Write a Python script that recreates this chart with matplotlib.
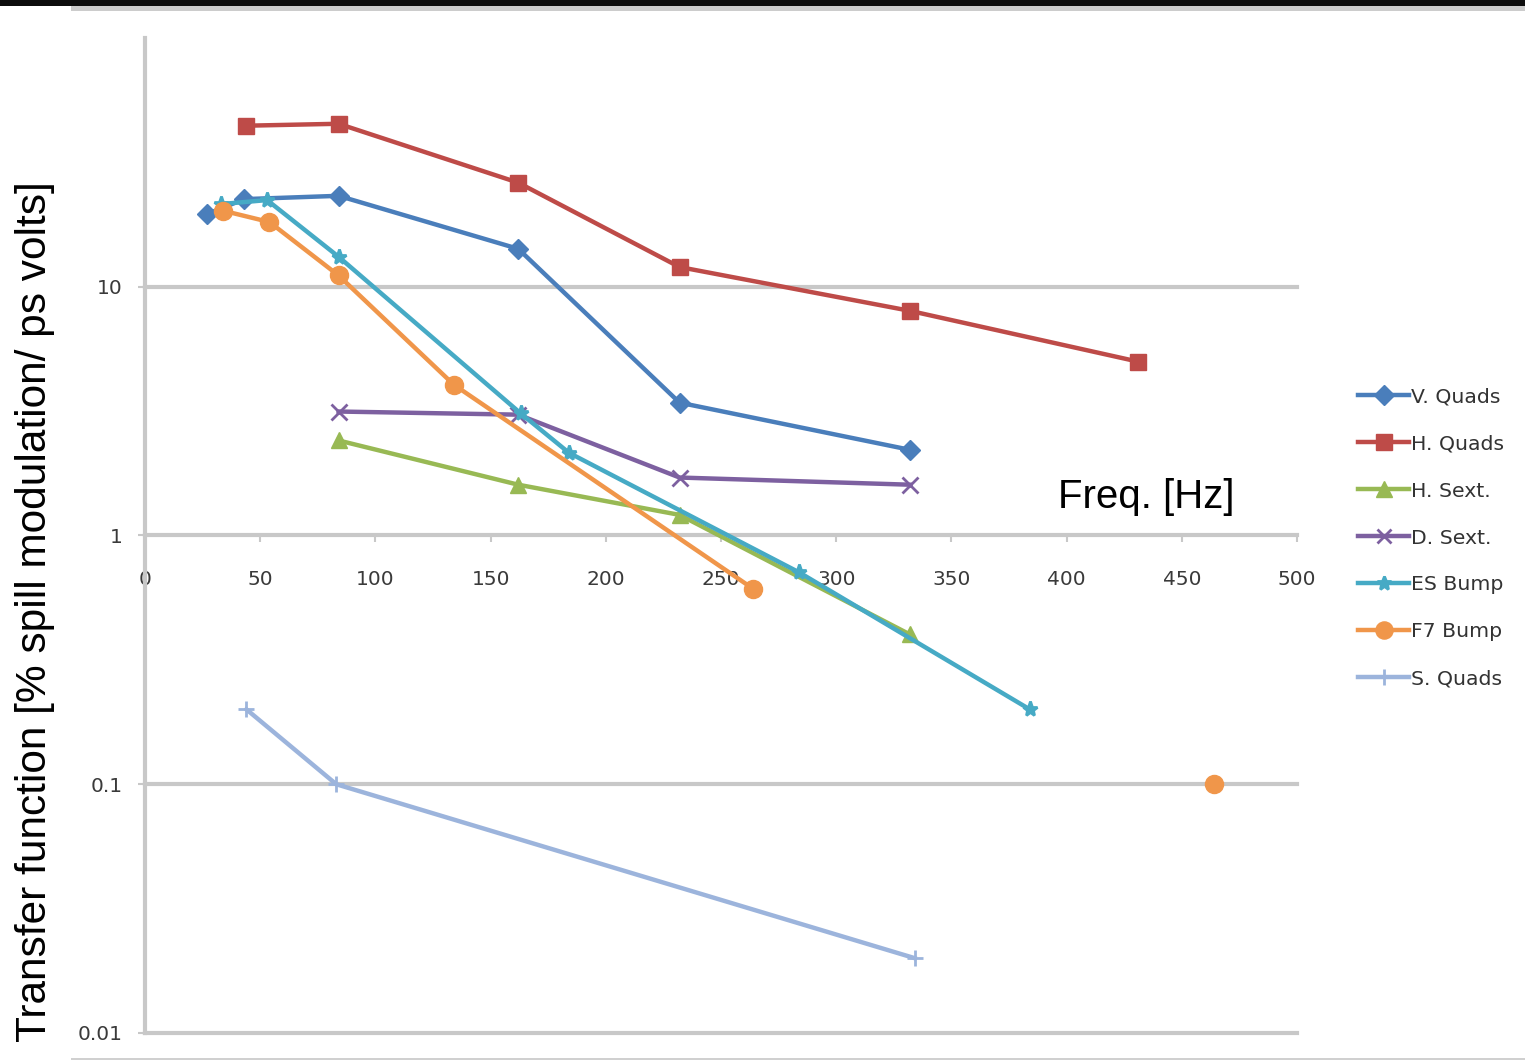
"""Transfer function vs frequency for several magnet families (log scale)."""

import matplotlib

matplotlib.use("Agg")
import matplotlib.pyplot as plt
import numpy as np
from matplotlib.patches import Rectangle
from matplotlib.ticker import NullLocator

# --- data -------------------------------------------------------------------
v_quads_x = [27, 43, 84, 162, 232, 332]
v_quads_y = [19.6, 22.5, 23.2, 14.2, 3.42, 2.21]

h_quads_x = [44, 84, 162, 232, 332, 431]
h_quads_y = [44.4, 45.2, 26.2, 12.0, 8.0, 5.0]

h_sext_x = [84, 162, 232, 332]
h_sext_y = [2.41, 1.60, 1.21, 0.40]

d_sext_x = [84, 162, 232, 332]
d_sext_y = [3.15, 3.06, 1.71, 1.60]

es_bump_x = [33, 53, 84, 163, 184, 284, 384]
es_bump_y = [21.5, 22.3, 13.2, 3.1, 2.15, 0.71, 0.20]

# gap before the last point (not connected in the original)
f7_bump_x = [34, 54, 84, 134, 264, np.nan, 464]
f7_bump_y = [20.2, 18.2, 11.1, 4.04, 0.61, np.nan, 0.10]

s_quads_x = [44, 83, 334]
s_quads_y = [0.20, 0.10, 0.020]

x_ticks = [0, 50, 100, 150, 200, 250, 300, 350, 400, 450, 500]
y_ticks = [0.01, 0.1, 1, 10]
y_tick_labels = ["0.01", "0.1", "1", "10"]

series = [
    ("V. Quads", v_quads_x, v_quads_y, "#4a7ebb", "D", 10.5),
    ("H. Quads", h_quads_x, h_quads_y, "#be4b48", "s", 11.5),
    ("H. Sext.", h_sext_x, h_sext_y, "#98b954", "^", 11.5),
    ("D. Sext.", d_sext_x, d_sext_y, "#7d60a0", "x", 11),
    ("ES Bump", es_bump_x, es_bump_y, "#46aac5", "*", 11),
    ("F7 Bump", f7_bump_x, f7_bump_y, "#f0964a", "o", 13),
    ("S. Quads", s_quads_x, s_quads_y, "#9cb4dc", "+", 12),
]

GRID = "#c8c8c8"
TICK_TEXT = "#3a3a3a"

fig = plt.figure(figsize=(15.25, 10.61), dpi=100, facecolor="white")
ax = fig.add_axes([0.0951, 0.0264, 0.7554, 0.9378])

for label, xs, ys, color, marker, ms in series:
    mew = 2.0 if marker in ("x", "+", "*") else 1.0
    ax.plot(xs, ys, color=color, lw=3.2, marker=marker, markersize=ms,
            markeredgewidth=mew, markeredgecolor=color, markerfacecolor=color,
            label=label, zorder=3)

ax.set_yscale("log")
ax.set_xlim(0, 500)
ax.set_ylim(0.01, 100)
ax.set_yticks(y_ticks)
ax.set_yticklabels(y_tick_labels)
ax.yaxis.set_minor_locator(NullLocator())
ax.set_xticks(x_ticks)
ax.set_xticklabels([str(t) for t in x_ticks])

for yv in [0.01, 0.1, 10]:
    ax.axhline(yv, color=GRID, lw=3, zorder=1, clip_on=False)

for side in ("top", "right"):
    ax.spines[side].set_visible(False)
ax.spines["left"].set_color(GRID)
ax.spines["left"].set_linewidth(3)
ax.spines["bottom"].set_position(("data", 1))
ax.spines["bottom"].set_color(GRID)
ax.spines["bottom"].set_linewidth(3)
ax.spines["bottom"].set_zorder(1)

ax.tick_params(axis="x", direction="out", length=5, width=1.5, color=GRID,
               pad=20, labelsize=14.5, labelcolor=TICK_TEXT)
ax.tick_params(axis="y", direction="out", length=5, width=1.5, color=GRID,
               pad=11, labelsize=14.5, labelcolor=TICK_TEXT)

ax.text(1146 / 1525, 1 - 497 / 1061, "Freq. [Hz]", transform=fig.transFigure,
        ha="center", va="center", fontsize=29, family="Liberation Sans")
fig.text(35 / 1525, 1 - 612 / 1061,
         "Transfer function [% spill modulation/ ps volts]",
         rotation=90, ha="center", va="center", fontsize=30.5,
         family="Liberation Sans")

ax.legend(loc="center left", bbox_to_anchor=(1350 / 1525, 1 - 538 / 1061),
          bbox_transform=fig.transFigure, frameon=False, fontsize=14.7,
          handlelength=2.5, handletextpad=0.1, labelspacing=1.37,
          borderaxespad=0, markerscale=0.95, labelcolor="#333333")

# screenshot frame bits
fig.patches.append(Rectangle((0, 1 - 6 / 1061), 1, 6 / 1061, transform=fig.transFigure,
                             facecolor="#0d0d0d", edgecolor="none"))
fig.patches.append(Rectangle((71 / 1525, 1 - 11 / 1061), 1, 5 / 1061, transform=fig.transFigure,
                             facecolor="#cccccc", edgecolor="none"))
fig.patches.append(Rectangle((71 / 1525, 1 / 1061), 1, 2 / 1061, transform=fig.transFigure,
                             facecolor="#d0d0d0", edgecolor="none"))

fig.savefig("out.png", dpi=100, facecolor="white")
